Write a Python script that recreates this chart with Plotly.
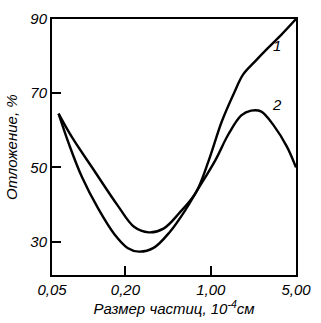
import plotly.graph_objects as go
import math

# Curve 1
x1 = [0.0566, 0.0733, 0.106, 0.173, 0.235, 0.31, 0.41, 0.556, 0.755, 0.964, 1.23, 1.55, 1.84, 2.3, 2.91, 3.8, 5.0]
y1 = [64.5, 58.0, 50.1, 39.7, 34.0, 32.5, 33.5, 37.8, 43.2, 51.9, 62.3, 70.0, 75.0, 78.5, 82.0, 85.8, 90.0]
# Curve 2
x2 = [0.0566, 0.069, 0.088, 0.12, 0.163, 0.208, 0.258, 0.34, 0.462, 0.628, 0.755, 1.09, 1.39, 1.78, 2.14, 2.58, 3.30, 4.21, 5.0]
y2 = [64.5, 56.2, 47.4, 38.8, 31.9, 28.3, 27.3, 28.3, 32.6, 38.8, 43.2, 51.9, 58.8, 64.0, 65.3, 65.1, 61.2, 55.6, 50.0]

curve_labels = ["1", "2"]
label_x = [3.5, 3.5]
label_y = [82.5, 66.6]

x_ticks = [0.05, 0.2, 1.0, 5.0]
x_ticktext = ["0,05", "0,20", "1,00", "5,00"]
y_ticks = [30, 50, 70, 90]
y_ticktext = ["30", "50", "70", "90"]

FONT = "Liberation Sans Narrow, Liberation Sans, DejaVu Sans"

fig = go.Figure()
fig.add_trace(go.Scatter(x=x1, y=y1, mode="lines", line=dict(color="black", width=2.4, shape="spline", smoothing=1.0), showlegend=False))
fig.add_trace(go.Scatter(x=x2, y=y2, mode="lines", line=dict(color="black", width=2.4, shape="spline", smoothing=1.0), showlegend=False))
fig.add_trace(go.Scatter(x=label_x, y=label_y, mode="text", text=curve_labels,
                         textfont=dict(family=FONT, size=15, color="black", style="italic"),
                         showlegend=False))

fig.update_layout(
    width=321, height=323,
    margin=dict(l=52, r=18, t=10, b=48),
    paper_bgcolor="white", plot_bgcolor="white",
    font=dict(family=FONT, color="black", size=14),
    xaxis=dict(
        type="log", range=[math.log10(0.05), math.log10(5.0)],
        tickvals=x_ticks, ticktext=x_ticktext,
        tickfont=dict(family=FONT, size=15, style="italic"),
        ticks="inside", ticklen=9, tickwidth=1.5, tickcolor="black",
        showline=True, linecolor="black", linewidth=2, mirror=True,
        showgrid=False, zeroline=False,
        title=dict(text="Размер частиц, 10<sup>-4</sup>см",
                   font=dict(family=FONT, size=15, style="italic"), standoff=2),
    ),
    yaxis=dict(
        range=[21, 90],
        tickvals=y_ticks, ticktext=y_ticktext,
        tickfont=dict(family=FONT, size=15, style="italic"),
        ticks="inside", ticklen=9, tickwidth=1.5, tickcolor="black",
        showline=True, linecolor="black", linewidth=2, mirror=True,
        showgrid=False, zeroline=False,
    ),
    annotations=[dict(text="Отложение, %", xref="paper", yref="paper",
                      x=-0.168, y=0.5, textangle=-90, showarrow=False,
                      xanchor="center", yanchor="middle",
                      font=dict(family=FONT, size=15, style="italic", color="black"))],
)

fig.write_html("out.html")
